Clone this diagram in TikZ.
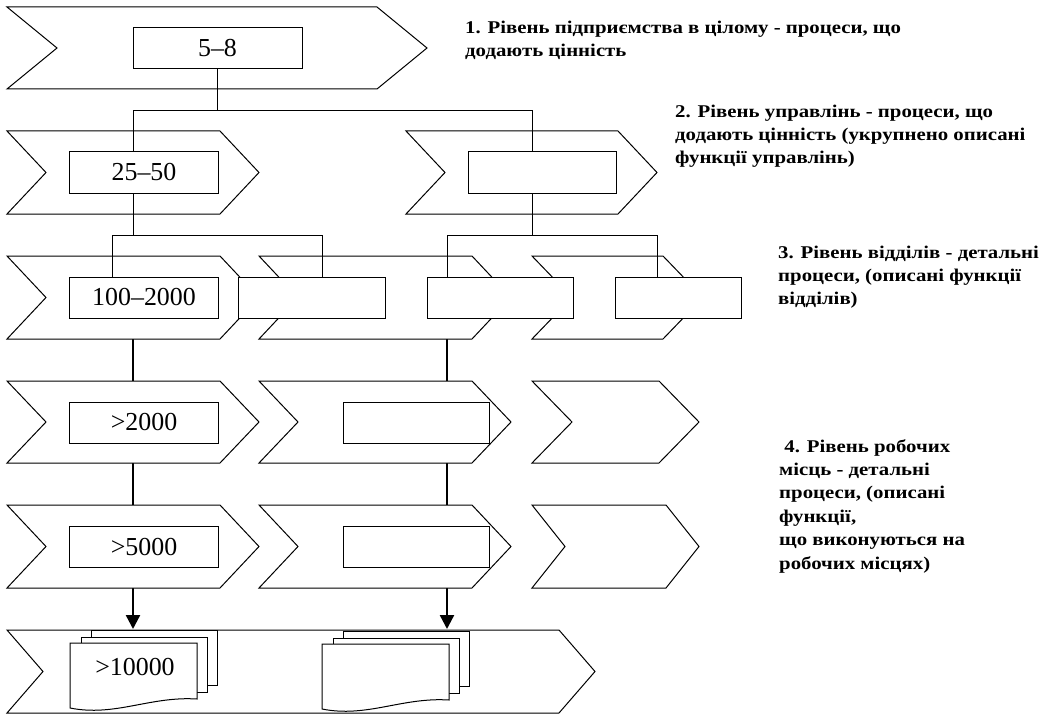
\documentclass[tikz,border=0pt]{standalone}
\usepackage{fontspec}
\setmainfont{Liberation Serif}
\usetikzlibrary{arrows.meta}

\pgfdeclarelayer{bg}
\pgfdeclarelayer{mid}
\pgfsetlayers{bg,mid,main}

% chevron band: left x, flat end x, depth, top y, bottom y
\newcommand{\chevband}[5]{%
  \draw[band] (#1,#4) -- (#2,#4) -- ({#2+#3},{(#4+#5)/2}) -- (#2,#5)
    -- (#1,#5) -- ({#1+#3},{(#4+#5)/2}) -- cycle;}
% stack of three documents, front page at left x, top y
\newcommand{\pagestack}[2]{%
  \draw[page] ({#1+21},{#2-13}) rectangle ({#1+147},{#2+42});
  \draw[page] ({#1+11},{#2-6}) rectangle ({#1+137},{#2+49});
  \draw[page] (#1,#2) -- ({#1+127},#2) -- ({#1+127},{#2+56})
    .. controls ({#1+80},{#2+53}) and ({#1+45},{#2+74}) .. (#1,{#2+65}) -- cycle;}
% wide bold note text
\newcommand{\notetext}[1]{\scalebox{1.16}[1]{\begin{tabular}{@{}l@{}}#1\end{tabular}}}

\tikzset{
  band/.style={draw,fill=white,line width=1bp},
  page/.style={draw,fill=white,line width=1bp},
  procbox/.style={draw,fill=white,line width=1bp,inner sep=0pt,
    minimum width=148bp,minimum height=41bp,
    font=\fontsize{26}{29}\selectfont},
  link/.style={line width=1bp},
  flow/.style={line width=2.4bp},
  flowarrow/.style={line width=2.4bp,-{Triangle[width=14bp,length=14bp]}},
  note/.style={anchor=north west,inner sep=0pt,
    font=\bfseries\fontsize{18}{23.5}\selectfont}
}

\begin{document}
\begin{tikzpicture}[x=1bp,y=-1bp]
  \useasboundingbox (0,0) rectangle (1050,716);

  \begin{pgfonlayer}{mid}
  \chevband{7}{377}{50}{7}{89}
  \chevband{7}{220}{39}{131}{214}
  \chevband{406}{618}{39}{131}{214}
  \chevband{7}{220}{39}{256}{339}
  \chevband{259}{472}{39}{256}{339}
  \chevband{532}{663}{40}{256}{339}
  \chevband{7}{220}{39}{381}{463}
  \chevband{259}{472}{39}{381}{463}
  \chevband{532}{659}{40}{381}{463}
  \chevband{7}{220}{39}{505}{588}
  \chevband{259}{472}{39}{505}{588}
  \chevband{532}{666}{33}{505}{588}
  \chevband{7}{559}{36}{630}{713}
  \end{pgfonlayer}

  % level boxes
  \node[procbox,minimum width=169bp] (lvl) at (217.5,48.5) {5--8};
  \node[procbox] (man1) at (144,172.5) {25--50};
  \node[procbox] (man2) at (542,172.5) {};
  \node[procbox] (dep1) at (144,297.5) {100--2000};
  \node[procbox,minimum width=147bp] (dep2) at (311.5,297.5) {};
  \node[procbox,minimum width=146bp] (dep3) at (500,297.5) {};
  \node[procbox,minimum width=126bp] (dep4) at (678,297.5) {};
  \node[procbox] (wp1) at (144,422.5) {>2000};
  \node[procbox,minimum width=146bp] (wp2) at (416,422.5) {};
  \node[procbox] (wp3) at (144,547) {>5000};
  \node[procbox,minimum width=146bp] (wp4) at (416,547) {};

  % document stacks
  \pagestack{70}{643}
  \pagestack{322}{644}
  \node[procbox,draw=none,fill=none,minimum width=0pt,minimum height=0pt]
    (docs) at (135,667) {>10000};

  \coordinate (col1) at (133,0);
  \coordinate (col2) at (447,0);
  \coordinate (docstop) at (0,629);

  % tree links
  \draw[link] (lvl.south) -- ++(0,41) coordinate (j1);
  \draw[link] (j1) -| (man1.north -| col1);
  \draw[link] (j1) -| ([xshift=-10bp]man2.north);
  \draw[link] (man1.south -| col1) -- ++(0,42) coordinate (j2);
  \draw[link] (j2) -| ([xshift=-32bp]dep1.north);
  \draw[link] (j2) -| ([xshift=10.5bp]dep2.north);
  \draw[link] ([xshift=-10bp]man2.south) -- ++(0,42) coordinate (j3);
  \draw[link] (j3) -| (dep3.north -| col2);
  \draw[link] (j3) -| ([xshift=-21bp]dep4.north);

  \begin{pgfonlayer}{bg}
  \draw[flow] (dep1.south -| col1) -- (wp1.north -| col1);
  \draw[flow] (wp1.south -| col1) -- (wp3.north -| col1);
  \draw[flowarrow] (wp3.south -| col1) -- (docstop -| col1);
  \draw[flow] (dep3.south -| col2) -- (wp2.north -| col2);
  \draw[flow] (wp2.south -| col2) -- (wp4.north -| col2);
  \draw[flowarrow] (wp4.south -| col2) -- (docstop -| col2);
  \end{pgfonlayer}

  % level notes
  \node[note] (note1) at (465,16.5)
    {\notetext{1. Рівень підприємства в цілому - процеси, що\\додають цінність}};
  \node[note] (note2) at (675,100.5)
    {\notetext{2. Рівень управлінь - процеси, що\\додають цінність (укрупнено описані\\функції управлінь)}};
  \node[note] (note3) at (778,241.5)
    {\notetext{3. Рівень відділів - детальні\\процеси, (описані функції\\відділів)}};
  \node[note] (note4) at (779,435.5)
    {\notetext{\hspace{0.25em}4. Рівень робочих\\місць - детальні\\процеси, (описані\\функції,\\що виконуються на\\робочих місцях)}};
\end{tikzpicture}
\end{document}
